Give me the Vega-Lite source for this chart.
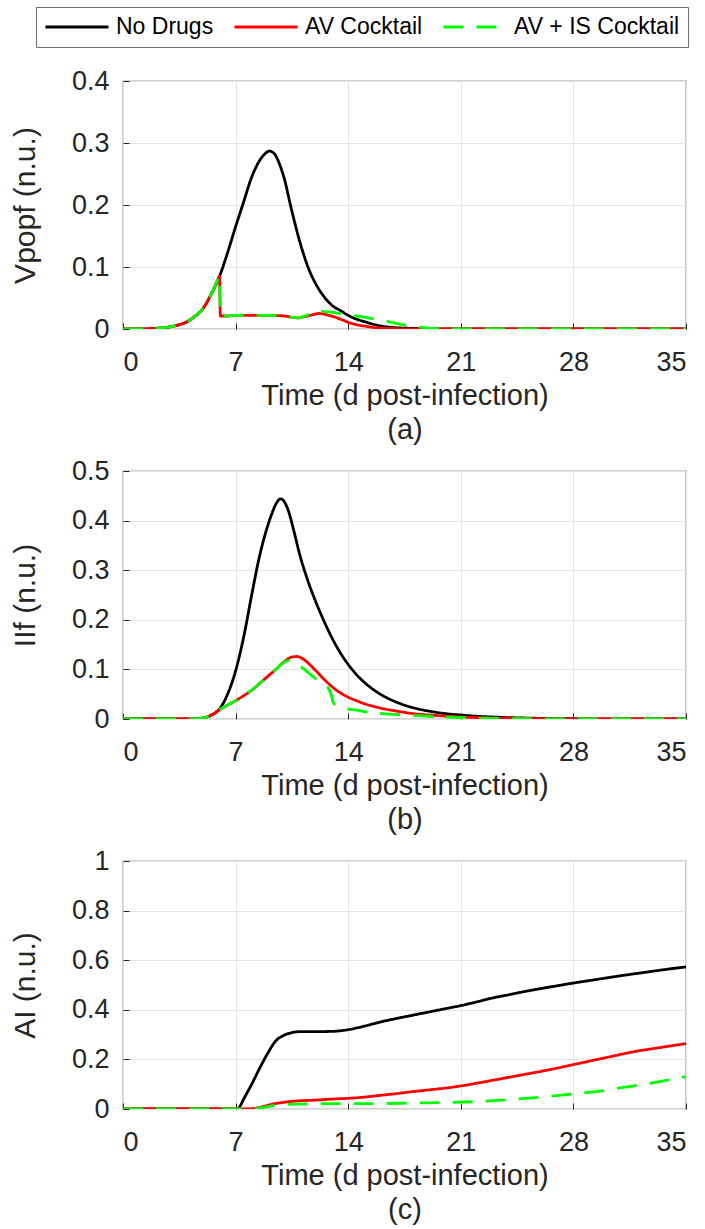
{
  "$schema": "https://vega.github.io/schema/vega-lite/v6.json",
  "padding": {"left": 9, "top": 6, "right": 5, "bottom": 5},
  "background": "white",
  "config": {
    "font": "Liberation Sans",
    "view": {"stroke": "#4d4d4d", "strokeWidth": 1.2},
    "axis": {
      "labelFont": "Liberation Sans", "titleFont": "Liberation Sans",
      "labelFontSize": 27, "titleFontSize": 30, "titleFontWeight": "normal",
      "labelColor": "#262626", "titleColor": "#262626",
      "domain": false, "gridColor": "#e3e3e3", "gridWidth": 1,
      "tickColor": "#262626", "tickSize": -6, "tickWidth": 1
    },
    "axisX": {"labelPadding": 26, "titlePadding": 6, "titleLineHeight": 34, "titleFontSize": 29},
    "axisY": {"labelPadding": 20, "titlePadding": 31},
    "legend": {
      "orient": "none", "legendX": -87, "legendY": -74, "direction": "horizontal",
      "labelFont": "Liberation Sans", "labelFontSize": 23, "labelColor": "#000000",
      "symbolType": "M-3,0H3", "symbolSize": 441, "symbolStrokeWidth": 3, "symbolOffset": 21,
      "labelOffset": 27, "columnPadding": 14, "padding": 8,
      "strokeColor": "#6e6e6e", "fillColor": "white", "title": null, "labelLimit": 400
    },
    "concat": {"spacing": 11}
  },
  "data": {"values": [
    {"p":"a","s":"No Drugs","t":0,"v":0},{"p":"a","s":"No Drugs","t":1,"v":0},{"p":"a","s":"No Drugs","t":1.5,"v":0.0003},{"p":"a","s":"No Drugs","t":2,"v":0.001},{"p":"a","s":"No Drugs","t":2.5,"v":0.002},{"p":"a","s":"No Drugs","t":3,"v":0.004},{"p":"a","s":"No Drugs","t":3.5,"v":0.007},{"p":"a","s":"No Drugs","t":4,"v":0.012},{"p":"a","s":"No Drugs","t":4.5,"v":0.021},{"p":"a","s":"No Drugs","t":5,"v":0.034},{"p":"a","s":"No Drugs","t":5.5,"v":0.057},{"p":"a","s":"No Drugs","t":6,"v":0.085},{"p":"a","s":"No Drugs","t":6.5,"v":0.123},{"p":"a","s":"No Drugs","t":7,"v":0.165},{"p":"a","s":"No Drugs","t":7.5,"v":0.205},{"p":"a","s":"No Drugs","t":8,"v":0.245},{"p":"a","s":"No Drugs","t":8.5,"v":0.272},{"p":"a","s":"No Drugs","t":8.8,"v":0.282},{"p":"a","s":"No Drugs","t":9.1,"v":0.287},{"p":"a","s":"No Drugs","t":9.4,"v":0.283},{"p":"a","s":"No Drugs","t":9.7,"v":0.268},{"p":"a","s":"No Drugs","t":10,"v":0.245},{"p":"a","s":"No Drugs","t":10.5,"v":0.19},{"p":"a","s":"No Drugs","t":11,"v":0.14},{"p":"a","s":"No Drugs","t":11.5,"v":0.1},{"p":"a","s":"No Drugs","t":12,"v":0.072},{"p":"a","s":"No Drugs","t":12.5,"v":0.052},{"p":"a","s":"No Drugs","t":13,"v":0.038},{"p":"a","s":"No Drugs","t":13.5,"v":0.03},{"p":"a","s":"No Drugs","t":14,"v":0.022},{"p":"a","s":"No Drugs","t":14.5,"v":0.016},{"p":"a","s":"No Drugs","t":15,"v":0.012},{"p":"a","s":"No Drugs","t":15.5,"v":0.008},{"p":"a","s":"No Drugs","t":16,"v":0.005},{"p":"a","s":"No Drugs","t":17,"v":0.002},{"p":"a","s":"No Drugs","t":18,"v":0.001},{"p":"a","s":"No Drugs","t":20,"v":0},{"p":"a","s":"No Drugs","t":35,"v":0},
    {"p":"a","s":"AV Cocktail","t":0,"v":0},{"p":"a","s":"AV Cocktail","t":1,"v":0},{"p":"a","s":"AV Cocktail","t":1.5,"v":0.0003},{"p":"a","s":"AV Cocktail","t":2,"v":0.001},{"p":"a","s":"AV Cocktail","t":2.5,"v":0.002},{"p":"a","s":"AV Cocktail","t":3,"v":0.004},{"p":"a","s":"AV Cocktail","t":3.5,"v":0.007},{"p":"a","s":"AV Cocktail","t":4,"v":0.012},{"p":"a","s":"AV Cocktail","t":4.5,"v":0.021},{"p":"a","s":"AV Cocktail","t":5,"v":0.034},{"p":"a","s":"AV Cocktail","t":5.5,"v":0.057},{"p":"a","s":"AV Cocktail","t":5.9,"v":0.08},{"p":"a","s":"AV Cocktail","t":6,"v":0.085},{"p":"a","s":"AV Cocktail","t":6.05,"v":0.021},{"p":"a","s":"AV Cocktail","t":6.5,"v":0.021},{"p":"a","s":"AV Cocktail","t":7,"v":0.022},{"p":"a","s":"AV Cocktail","t":8,"v":0.022},{"p":"a","s":"AV Cocktail","t":9,"v":0.022},{"p":"a","s":"AV Cocktail","t":10,"v":0.021},{"p":"a","s":"AV Cocktail","t":10.5,"v":0.019},{"p":"a","s":"AV Cocktail","t":10.9,"v":0.018},{"p":"a","s":"AV Cocktail","t":11.3,"v":0.02},{"p":"a","s":"AV Cocktail","t":11.8,"v":0.023},{"p":"a","s":"AV Cocktail","t":12.2,"v":0.025},{"p":"a","s":"AV Cocktail","t":12.8,"v":0.022},{"p":"a","s":"AV Cocktail","t":13.2,"v":0.019},{"p":"a","s":"AV Cocktail","t":13.6,"v":0.015},{"p":"a","s":"AV Cocktail","t":14.2,"v":0.009},{"p":"a","s":"AV Cocktail","t":14.7,"v":0.006},{"p":"a","s":"AV Cocktail","t":15.2,"v":0.004},{"p":"a","s":"AV Cocktail","t":15.7,"v":0.002},{"p":"a","s":"AV Cocktail","t":16.5,"v":0.001},{"p":"a","s":"AV Cocktail","t":18,"v":0},{"p":"a","s":"AV Cocktail","t":35,"v":0},
    {"p":"a","s":"AV + IS Cocktail","t":0,"v":0},{"p":"a","s":"AV + IS Cocktail","t":1,"v":0},{"p":"a","s":"AV + IS Cocktail","t":1.5,"v":0.0003},{"p":"a","s":"AV + IS Cocktail","t":2,"v":0.001},{"p":"a","s":"AV + IS Cocktail","t":2.5,"v":0.002},{"p":"a","s":"AV + IS Cocktail","t":3,"v":0.004},{"p":"a","s":"AV + IS Cocktail","t":3.5,"v":0.007},{"p":"a","s":"AV + IS Cocktail","t":4,"v":0.012},{"p":"a","s":"AV + IS Cocktail","t":4.5,"v":0.021},{"p":"a","s":"AV + IS Cocktail","t":5,"v":0.034},{"p":"a","s":"AV + IS Cocktail","t":5.5,"v":0.057},{"p":"a","s":"AV + IS Cocktail","t":5.9,"v":0.08},{"p":"a","s":"AV + IS Cocktail","t":6,"v":0.085},{"p":"a","s":"AV + IS Cocktail","t":6.05,"v":0.021},{"p":"a","s":"AV + IS Cocktail","t":6.5,"v":0.021},{"p":"a","s":"AV + IS Cocktail","t":7,"v":0.022},{"p":"a","s":"AV + IS Cocktail","t":8,"v":0.022},{"p":"a","s":"AV + IS Cocktail","t":9,"v":0.022},{"p":"a","s":"AV + IS Cocktail","t":10,"v":0.021},{"p":"a","s":"AV + IS Cocktail","t":10.5,"v":0.019},{"p":"a","s":"AV + IS Cocktail","t":10.9,"v":0.018},{"p":"a","s":"AV + IS Cocktail","t":11.3,"v":0.021},{"p":"a","s":"AV + IS Cocktail","t":11.8,"v":0.026},{"p":"a","s":"AV + IS Cocktail","t":12.2,"v":0.029},{"p":"a","s":"AV + IS Cocktail","t":12.6,"v":0.028},{"p":"a","s":"AV + IS Cocktail","t":13,"v":0.027},{"p":"a","s":"AV + IS Cocktail","t":13.5,"v":0.025},{"p":"a","s":"AV + IS Cocktail","t":14,"v":0.023},{"p":"a","s":"AV + IS Cocktail","t":14.5,"v":0.021},{"p":"a","s":"AV + IS Cocktail","t":15,"v":0.019},{"p":"a","s":"AV + IS Cocktail","t":15.7,"v":0.016},{"p":"a","s":"AV + IS Cocktail","t":16.5,"v":0.012},{"p":"a","s":"AV + IS Cocktail","t":17.2,"v":0.008},{"p":"a","s":"AV + IS Cocktail","t":17.8,"v":0.005},{"p":"a","s":"AV + IS Cocktail","t":18.4,"v":0.003},{"p":"a","s":"AV + IS Cocktail","t":19,"v":0.0015},{"p":"a","s":"AV + IS Cocktail","t":20,"v":0.0005},{"p":"a","s":"AV + IS Cocktail","t":21,"v":0},{"p":"a","s":"AV + IS Cocktail","t":35,"v":0},
    {"p":"b","s":"No Drugs","t":0,"v":0},{"p":"b","s":"No Drugs","t":4,"v":0},{"p":"b","s":"No Drugs","t":4.5,"v":0.0005},{"p":"b","s":"No Drugs","t":5,"v":0.002},{"p":"b","s":"No Drugs","t":5.5,"v":0.008},{"p":"b","s":"No Drugs","t":6,"v":0.02},{"p":"b","s":"No Drugs","t":6.5,"v":0.05},{"p":"b","s":"No Drugs","t":7,"v":0.097},{"p":"b","s":"No Drugs","t":7.5,"v":0.165},{"p":"b","s":"No Drugs","t":8,"v":0.25},{"p":"b","s":"No Drugs","t":8.5,"v":0.33},{"p":"b","s":"No Drugs","t":9,"v":0.39},{"p":"b","s":"No Drugs","t":9.3,"v":0.418},{"p":"b","s":"No Drugs","t":9.55,"v":0.436},{"p":"b","s":"No Drugs","t":9.8,"v":0.444},{"p":"b","s":"No Drugs","t":10.05,"v":0.437},{"p":"b","s":"No Drugs","t":10.3,"v":0.418},{"p":"b","s":"No Drugs","t":10.6,"v":0.382},{"p":"b","s":"No Drugs","t":11,"v":0.33},{"p":"b","s":"No Drugs","t":11.5,"v":0.278},{"p":"b","s":"No Drugs","t":12,"v":0.235},{"p":"b","s":"No Drugs","t":12.5,"v":0.197},{"p":"b","s":"No Drugs","t":13,"v":0.163},{"p":"b","s":"No Drugs","t":13.5,"v":0.134},{"p":"b","s":"No Drugs","t":14,"v":0.11},{"p":"b","s":"No Drugs","t":14.5,"v":0.09},{"p":"b","s":"No Drugs","t":15,"v":0.074},{"p":"b","s":"No Drugs","t":16,"v":0.05},{"p":"b","s":"No Drugs","t":17,"v":0.034},{"p":"b","s":"No Drugs","t":18,"v":0.023},{"p":"b","s":"No Drugs","t":19,"v":0.016},{"p":"b","s":"No Drugs","t":20,"v":0.011},{"p":"b","s":"No Drugs","t":21,"v":0.008},{"p":"b","s":"No Drugs","t":22,"v":0.0055},{"p":"b","s":"No Drugs","t":23,"v":0.004},{"p":"b","s":"No Drugs","t":24,"v":0.0028},{"p":"b","s":"No Drugs","t":26,"v":0.0013},{"p":"b","s":"No Drugs","t":28,"v":0.0005},{"p":"b","s":"No Drugs","t":30,"v":0},{"p":"b","s":"No Drugs","t":35,"v":0},
    {"p":"b","s":"AV Cocktail","t":0,"v":0},{"p":"b","s":"AV Cocktail","t":4,"v":0},{"p":"b","s":"AV Cocktail","t":4.5,"v":0.0005},{"p":"b","s":"AV Cocktail","t":5,"v":0.002},{"p":"b","s":"AV Cocktail","t":5.5,"v":0.008},{"p":"b","s":"AV Cocktail","t":6,"v":0.019},{"p":"b","s":"AV Cocktail","t":6.5,"v":0.028},{"p":"b","s":"AV Cocktail","t":7,"v":0.037},{"p":"b","s":"AV Cocktail","t":7.5,"v":0.047},{"p":"b","s":"AV Cocktail","t":8,"v":0.058},{"p":"b","s":"AV Cocktail","t":8.5,"v":0.072},{"p":"b","s":"AV Cocktail","t":9,"v":0.086},{"p":"b","s":"AV Cocktail","t":9.5,"v":0.1},{"p":"b","s":"AV Cocktail","t":10,"v":0.115},{"p":"b","s":"AV Cocktail","t":10.5,"v":0.125},{"p":"b","s":"AV Cocktail","t":10.8,"v":0.126},{"p":"b","s":"AV Cocktail","t":11.2,"v":0.121},{"p":"b","s":"AV Cocktail","t":11.6,"v":0.11},{"p":"b","s":"AV Cocktail","t":12,"v":0.097},{"p":"b","s":"AV Cocktail","t":12.5,"v":0.08},{"p":"b","s":"AV Cocktail","t":13,"v":0.065},{"p":"b","s":"AV Cocktail","t":13.5,"v":0.053},{"p":"b","s":"AV Cocktail","t":14,"v":0.044},{"p":"b","s":"AV Cocktail","t":14.5,"v":0.037},{"p":"b","s":"AV Cocktail","t":15,"v":0.031},{"p":"b","s":"AV Cocktail","t":16,"v":0.022},{"p":"b","s":"AV Cocktail","t":17,"v":0.016},{"p":"b","s":"AV Cocktail","t":18,"v":0.011},{"p":"b","s":"AV Cocktail","t":19,"v":0.008},{"p":"b","s":"AV Cocktail","t":20,"v":0.006},{"p":"b","s":"AV Cocktail","t":21,"v":0.004},{"p":"b","s":"AV Cocktail","t":22,"v":0.003},{"p":"b","s":"AV Cocktail","t":24,"v":0.0015},{"p":"b","s":"AV Cocktail","t":26,"v":0.0006},{"p":"b","s":"AV Cocktail","t":28,"v":0},{"p":"b","s":"AV Cocktail","t":35,"v":0},
    {"p":"b","s":"AV + IS Cocktail","t":0,"v":0},{"p":"b","s":"AV + IS Cocktail","t":4,"v":0},{"p":"b","s":"AV + IS Cocktail","t":4.5,"v":0.0005},{"p":"b","s":"AV + IS Cocktail","t":5,"v":0.002},{"p":"b","s":"AV + IS Cocktail","t":5.5,"v":0.008},{"p":"b","s":"AV + IS Cocktail","t":6,"v":0.019},{"p":"b","s":"AV + IS Cocktail","t":6.5,"v":0.028},{"p":"b","s":"AV + IS Cocktail","t":7,"v":0.037},{"p":"b","s":"AV + IS Cocktail","t":7.5,"v":0.047},{"p":"b","s":"AV + IS Cocktail","t":8,"v":0.058},{"p":"b","s":"AV + IS Cocktail","t":8.5,"v":0.072},{"p":"b","s":"AV + IS Cocktail","t":9,"v":0.086},{"p":"b","s":"AV + IS Cocktail","t":9.5,"v":0.1},{"p":"b","s":"AV + IS Cocktail","t":10,"v":0.114},{"p":"b","s":"AV + IS Cocktail","t":10.3,"v":0.118},{"p":"b","s":"AV + IS Cocktail","t":10.6,"v":0.115},{"p":"b","s":"AV + IS Cocktail","t":11,"v":0.107},{"p":"b","s":"AV + IS Cocktail","t":11.5,"v":0.094},{"p":"b","s":"AV + IS Cocktail","t":12,"v":0.081},{"p":"b","s":"AV + IS Cocktail","t":12.5,"v":0.069},{"p":"b","s":"AV + IS Cocktail","t":12.8,"v":0.06},{"p":"b","s":"AV + IS Cocktail","t":12.95,"v":0.048},{"p":"b","s":"AV + IS Cocktail","t":13.05,"v":0.035},{"p":"b","s":"AV + IS Cocktail","t":13.2,"v":0.028},{"p":"b","s":"AV + IS Cocktail","t":13.5,"v":0.024},{"p":"b","s":"AV + IS Cocktail","t":14,"v":0.02},{"p":"b","s":"AV + IS Cocktail","t":14.5,"v":0.018},{"p":"b","s":"AV + IS Cocktail","t":15,"v":0.015},{"p":"b","s":"AV + IS Cocktail","t":16,"v":0.0115},{"p":"b","s":"AV + IS Cocktail","t":17,"v":0.009},{"p":"b","s":"AV + IS Cocktail","t":18,"v":0.0075},{"p":"b","s":"AV + IS Cocktail","t":19,"v":0.0055},{"p":"b","s":"AV + IS Cocktail","t":20,"v":0.004},{"p":"b","s":"AV + IS Cocktail","t":22,"v":0.002},{"p":"b","s":"AV + IS Cocktail","t":24,"v":0.001},{"p":"b","s":"AV + IS Cocktail","t":26,"v":0.0004},{"p":"b","s":"AV + IS Cocktail","t":28,"v":0},{"p":"b","s":"AV + IS Cocktail","t":35,"v":0},
    {"p":"c","s":"No Drugs","t":0,"v":0},{"p":"c","s":"No Drugs","t":7,"v":0},{"p":"c","s":"No Drugs","t":7.2,"v":0.005},{"p":"c","s":"No Drugs","t":7.5,"v":0.04},{"p":"c","s":"No Drugs","t":8,"v":0.1},{"p":"c","s":"No Drugs","t":8.5,"v":0.165},{"p":"c","s":"No Drugs","t":9,"v":0.225},{"p":"c","s":"No Drugs","t":9.5,"v":0.275},{"p":"c","s":"No Drugs","t":10,"v":0.297},{"p":"c","s":"No Drugs","t":10.5,"v":0.308},{"p":"c","s":"No Drugs","t":11,"v":0.312},{"p":"c","s":"No Drugs","t":12,"v":0.312},{"p":"c","s":"No Drugs","t":13,"v":0.313},{"p":"c","s":"No Drugs","t":14,"v":0.32},{"p":"c","s":"No Drugs","t":15,"v":0.334},{"p":"c","s":"No Drugs","t":16,"v":0.351},{"p":"c","s":"No Drugs","t":17,"v":0.365},{"p":"c","s":"No Drugs","t":18,"v":0.378},{"p":"c","s":"No Drugs","t":19,"v":0.391},{"p":"c","s":"No Drugs","t":20,"v":0.404},{"p":"c","s":"No Drugs","t":21,"v":0.417},{"p":"c","s":"No Drugs","t":22,"v":0.432},{"p":"c","s":"No Drugs","t":23,"v":0.448},{"p":"c","s":"No Drugs","t":24,"v":0.461},{"p":"c","s":"No Drugs","t":25,"v":0.474},{"p":"c","s":"No Drugs","t":26,"v":0.486},{"p":"c","s":"No Drugs","t":27,"v":0.497},{"p":"c","s":"No Drugs","t":28,"v":0.508},{"p":"c","s":"No Drugs","t":29,"v":0.518},{"p":"c","s":"No Drugs","t":30,"v":0.528},{"p":"c","s":"No Drugs","t":31,"v":0.538},{"p":"c","s":"No Drugs","t":32,"v":0.547},{"p":"c","s":"No Drugs","t":33,"v":0.556},{"p":"c","s":"No Drugs","t":34,"v":0.565},{"p":"c","s":"No Drugs","t":35,"v":0.573},
    {"p":"c","s":"AV Cocktail","t":0,"v":0},{"p":"c","s":"AV Cocktail","t":7.8,"v":0},{"p":"c","s":"AV Cocktail","t":8.3,"v":0.004},{"p":"c","s":"AV Cocktail","t":8.8,"v":0.012},{"p":"c","s":"AV Cocktail","t":9.3,"v":0.02},{"p":"c","s":"AV Cocktail","t":10,"v":0.027},{"p":"c","s":"AV Cocktail","t":10.5,"v":0.031},{"p":"c","s":"AV Cocktail","t":11,"v":0.033},{"p":"c","s":"AV Cocktail","t":12,"v":0.036},{"p":"c","s":"AV Cocktail","t":13,"v":0.04},{"p":"c","s":"AV Cocktail","t":14,"v":0.043},{"p":"c","s":"AV Cocktail","t":15,"v":0.048},{"p":"c","s":"AV Cocktail","t":16,"v":0.055},{"p":"c","s":"AV Cocktail","t":17,"v":0.062},{"p":"c","s":"AV Cocktail","t":18,"v":0.07},{"p":"c","s":"AV Cocktail","t":19,"v":0.077},{"p":"c","s":"AV Cocktail","t":20,"v":0.084},{"p":"c","s":"AV Cocktail","t":21,"v":0.093},{"p":"c","s":"AV Cocktail","t":22,"v":0.104},{"p":"c","s":"AV Cocktail","t":23,"v":0.116},{"p":"c","s":"AV Cocktail","t":24,"v":0.128},{"p":"c","s":"AV Cocktail","t":25,"v":0.14},{"p":"c","s":"AV Cocktail","t":26,"v":0.152},{"p":"c","s":"AV Cocktail","t":27,"v":0.165},{"p":"c","s":"AV Cocktail","t":28,"v":0.179},{"p":"c","s":"AV Cocktail","t":29,"v":0.193},{"p":"c","s":"AV Cocktail","t":30,"v":0.207},{"p":"c","s":"AV Cocktail","t":31,"v":0.221},{"p":"c","s":"AV Cocktail","t":32,"v":0.234},{"p":"c","s":"AV Cocktail","t":33,"v":0.244},{"p":"c","s":"AV Cocktail","t":34,"v":0.254},{"p":"c","s":"AV Cocktail","t":35,"v":0.264},
    {"p":"c","s":"AV + IS Cocktail","t":0,"v":0},{"p":"c","s":"AV + IS Cocktail","t":8,"v":0},{"p":"c","s":"AV + IS Cocktail","t":8.5,"v":0.004},{"p":"c","s":"AV + IS Cocktail","t":9,"v":0.01},{"p":"c","s":"AV + IS Cocktail","t":9.5,"v":0.015},{"p":"c","s":"AV + IS Cocktail","t":10,"v":0.018},{"p":"c","s":"AV + IS Cocktail","t":11,"v":0.02},{"p":"c","s":"AV + IS Cocktail","t":12,"v":0.021},{"p":"c","s":"AV + IS Cocktail","t":14,"v":0.022},{"p":"c","s":"AV + IS Cocktail","t":16,"v":0.022},{"p":"c","s":"AV + IS Cocktail","t":18,"v":0.024},{"p":"c","s":"AV + IS Cocktail","t":20,"v":0.026},{"p":"c","s":"AV + IS Cocktail","t":22,"v":0.03},{"p":"c","s":"AV + IS Cocktail","t":24,"v":0.038},{"p":"c","s":"AV + IS Cocktail","t":26,"v":0.048},{"p":"c","s":"AV + IS Cocktail","t":28,"v":0.061},{"p":"c","s":"AV + IS Cocktail","t":30,"v":0.075},{"p":"c","s":"AV + IS Cocktail","t":31,"v":0.086},{"p":"c","s":"AV + IS Cocktail","t":32,"v":0.096},{"p":"c","s":"AV + IS Cocktail","t":33,"v":0.106},{"p":"c","s":"AV + IS Cocktail","t":34,"v":0.118},{"p":"c","s":"AV + IS Cocktail","t":35,"v":0.13}
  ]},
  "vconcat": [
    {
      "width": 563, "height": 248,
      "transform": [{"filter": "datum.p == 'a'"}],
      "mark": {"type": "line", "strokeWidth": 2.8, "clip": true, "interpolate": "monotone"},
      "encoding": {
        "x": {"field": "t", "type": "quantitative", "scale": {"domain": [0, 35], "nice": false, "zero": false},
              "axis": {"values": [0, 7, 14, 21, 28, 35], "title": ["Time (d post-infection)", "(a)"], "format": "d"}},
        "y": {"field": "v", "type": "quantitative", "scale": {"domain": [0, 0.4], "nice": false},
              "axis": {"values": [0, 0.1, 0.2, 0.3, 0.4], "format": "~g", "title": "Vpopf (n.u.)"}},
        "color": {"field": "s", "type": "nominal", "scale": {"domain": ["No Drugs", "AV Cocktail", "AV + IS Cocktail"], "range": ["#000000", "#ff0000", "#00ff00"]}},
        "strokeDash": {"field": "s", "type": "nominal", "scale": {"domain": ["No Drugs", "AV Cocktail", "AV + IS Cocktail"], "range": [[1, 0], [1, 0], [20, 13]]}},
        "order": {"field": "t", "type": "quantitative"}
      }
    },
    {
      "width": 563, "height": 248,
      "transform": [{"filter": "datum.p == 'b'"}],
      "mark": {"type": "line", "strokeWidth": 2.8, "clip": true, "interpolate": "monotone"},
      "encoding": {
        "x": {"field": "t", "type": "quantitative", "scale": {"domain": [0, 35], "nice": false, "zero": false},
              "axis": {"values": [0, 7, 14, 21, 28, 35], "title": ["Time (d post-infection)", "(b)"], "format": "d"}},
        "y": {"field": "v", "type": "quantitative", "scale": {"domain": [0, 0.5], "nice": false},
              "axis": {"values": [0, 0.1, 0.2, 0.3, 0.4, 0.5], "format": "~g", "title": "IIf (n.u.)"}},
        "color": {"field": "s", "type": "nominal", "scale": {"domain": ["No Drugs", "AV Cocktail", "AV + IS Cocktail"], "range": ["#000000", "#ff0000", "#00ff00"]}},
        "strokeDash": {"field": "s", "type": "nominal", "scale": {"domain": ["No Drugs", "AV Cocktail", "AV + IS Cocktail"], "range": [[1, 0], [1, 0], [20, 13]]}},
        "order": {"field": "t", "type": "quantitative"}
      }
    },
    {
      "width": 563, "height": 248,
      "transform": [{"filter": "datum.p == 'c'"}],
      "mark": {"type": "line", "strokeWidth": 2.8, "clip": true, "interpolate": "monotone"},
      "encoding": {
        "x": {"field": "t", "type": "quantitative", "scale": {"domain": [0, 35], "nice": false, "zero": false},
              "axis": {"values": [0, 7, 14, 21, 28, 35], "title": ["Time (d post-infection)", "(c)"], "format": "d"}},
        "y": {"field": "v", "type": "quantitative", "scale": {"domain": [0, 1], "nice": false},
              "axis": {"values": [0, 0.2, 0.4, 0.6, 0.8, 1], "format": "~g", "title": "AI (n.u.)"}},
        "color": {"field": "s", "type": "nominal", "scale": {"domain": ["No Drugs", "AV Cocktail", "AV + IS Cocktail"], "range": ["#000000", "#ff0000", "#00ff00"]}},
        "strokeDash": {"field": "s", "type": "nominal", "scale": {"domain": ["No Drugs", "AV Cocktail", "AV + IS Cocktail"], "range": [[1, 0], [1, 0], [20, 13]]}},
        "order": {"field": "t", "type": "quantitative"}
      }
    }
  ]
}
